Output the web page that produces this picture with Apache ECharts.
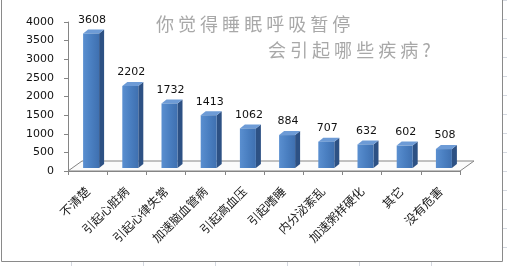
<!DOCTYPE html>
<html>
<head>
<meta charset="utf-8">
<script src="https://cdn.jsdelivr.net/npm/echarts@6/dist/echarts.min.js"></script>
<style>html,body{margin:0;padding:0;background:#fff;}#c{width:507px;height:266px;}</style>
</head>
<body>
<div id="c"></div>
<script>
var categories = ['不清楚','引起心脏病','引起心律失常','加速脑血管病','引起高血压','引起嗜睡','内分泌紊乱','加速粥样硬化','其它','没有危害'];
var values = [3608, 2202, 1732, 1413, 1062, 884, 707, 632, 602, 508];
var yTicks = [0, 500, 1000, 1500, 2000, 2500, 3000, 3500, 4000];
var titleLine1 = '你 觉 得 睡 眠 呼 吸 暂 停';
var titleLine2 = '会 引 起 哪 些 疾 病 ?';

var chart = echarts.init(document.getElementById('c'), null, {renderer: 'canvas'});
var numFont = 'DejaVu Sans';
var BW = 16, OX = 3.5, OY = -3, DX = 5, DY = -4;
var FDX = 14, FDY = -10;

var frontGrad = new echarts.graphic.LinearGradient(0, 0, 1, 0, [
  {offset: 0, color: '#5a8fd0'}, {offset: 0.5, color: '#4a7fc1'}, {offset: 1, color: '#3f70b0'}
]);

var gridLines = [];
[71, 143, 215, 287, 359, 431].forEach(function (x) {
  gridLines.push({type: 'line', shape: {x1: x + 0.5, y1: 262, x2: x + 0.5, y2: 266}, style: {stroke: '#d4d8e0', lineWidth: 1}, silent: true});
});
[0, 19, 38, 57, 76, 95, 114, 133, 152, 171, 190, 209, 228, 247].forEach(function (y) {
  gridLines.push({type: 'line', shape: {x1: 503, y1: y + 0.5, x2: 507, y2: y + 0.5}, style: {stroke: '#d4d8e0', lineWidth: 1}, silent: true});
});

var option = {
  backgroundColor: '#ffffff',
  animation: false,
  title: [
    {text: titleLine1, left: 151, top: 10, textStyle: {fontFamily: 'Noto Sans CJK SC', fontSize: 18, fontWeight: 'normal', color: '#a8a8a8'}},
    {text: titleLine2, left: 263, top: 36, textStyle: {fontFamily: 'Noto Sans CJK SC', fontSize: 18, fontWeight: 'normal', color: '#a8a8a8'}}
  ],
  graphic: [
    {type: 'rect', shape: {x: 1.5, y: -5, width: 501, height: 266.5}, style: {fill: 'none', stroke: '#8a8a8a', lineWidth: 1}, silent: true, z: 100}
  ].concat(gridLines),
  grid: {left: 68, right: 47, top: 22, bottom: 95, containLabel: false},
  xAxis: {
    type: 'category',
    data: categories,
    axisLine: {show: true, lineStyle: {color: '#858585', width: 1}},
    axisTick: {show: true, length: 4, lineStyle: {color: '#858585'}},
    axisLabel: {interval: 0, rotate: 45, margin: 18, fontSize: 12, color: '#1a1a1a', fontFamily: 'Noto Sans CJK SC'},
    splitLine: {show: false}
  },
  yAxis: {
    type: 'value',
    min: yTicks[0],
    max: yTicks[yTicks.length - 1],
    interval: yTicks[1] - yTicks[0],
    axisLine: {show: true, lineStyle: {color: '#858585', width: 1}},
    axisTick: {show: true, length: 4, lineStyle: {color: '#858585'}},
    axisLabel: {fontSize: 11, color: '#111', fontFamily: numFont, margin: 14, formatter: function (v) { return String(v); }},
    splitLine: {show: false}
  },
  series: [
    {
      type: 'custom',
      z: 1,
      data: [[0, 0]],
      silent: true,
      renderItem: function (params, api) {
        var cs = params.coordSys;
        var x0 = cs.x, x1 = cs.x + cs.width, y0 = cs.y + cs.height;
        return {
          type: 'polygon',
          shape: {points: [[x0, y0], [x1, y0], [x1 + FDX, y0 + FDY], [x0 + FDX, y0 + FDY]]},
          style: {fill: '#fbfbfb', stroke: '#858585', lineWidth: 1}
        };
      }
    },
    {
      type: 'custom',
      z: 2,
      data: values.map(function (v, i) { return [i, v]; }),
      renderItem: function (params, api) {
        var base = api.coord([api.value(0), 0]);
        var top = api.coord([api.value(0), api.value(1)]);
        var cx = base[0] + OX;
        var by = base[1] + OY;
        var ty = top[1] + OY;
        var l = cx - BW / 2, r = cx + BW / 2;
        return {
          type: 'group',
          children: [
            {type: 'polygon', shape: {points: [[r, ty], [r + DX, ty + DY], [r + DX, by + DY], [r, by]]}, style: {fill: '#2d5184'}},
            {type: 'polygon', shape: {points: [[l, ty], [r, ty], [r + DX, ty + DY], [l + DX, ty + DY]]}, style: {fill: '#6d9bd6'}},
            {type: 'rect', shape: {x: l, y: ty, width: BW, height: by - ty}, style: {fill: frontGrad}},
            {type: 'text', x: cx + 1, y: ty + DY - 4, style: {text: String(api.value(1)), fill: '#111', font: '11px "' + numFont + '"', align: 'center', verticalAlign: 'bottom'}}
          ]
        };
      }
    }
  ]
};
chart.setOption(option);
</script>
</body>
</html>
